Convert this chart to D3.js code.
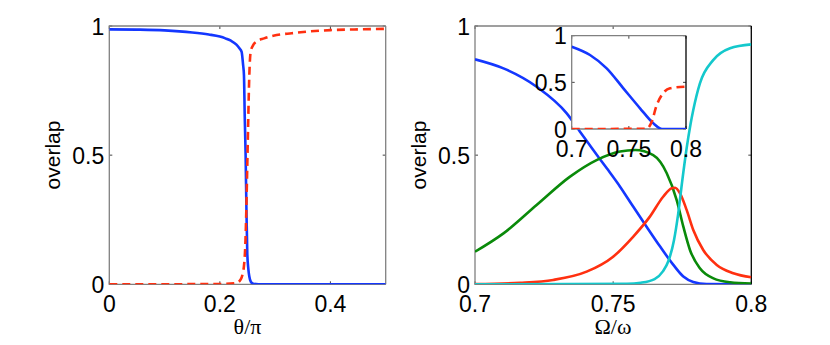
<!DOCTYPE html>
<html>
<head>
<meta charset="utf-8">
<script src="https://cdn.jsdelivr.net/npm/d3@7"></script>
<style>
  body { margin: 0; background: #fff; }
  text { font-family: "Liberation Sans", Arial, sans-serif; }
</style>
</head>
<body>
<div id="chart"></div>
<script>
// ---- data ----
// left panel: overlap vs theta/pi
var leftSolid = [
  [0, 0.987], [0.05, 0.986], [0.1, 0.983], [0.15, 0.975], [0.18, 0.967], [0.2, 0.959],
  [0.21, 0.952], [0.22, 0.943], [0.23, 0.928], [0.235, 0.915], [0.2394, 0.90],
  [0.242, 0.85], [0.2436, 0.81], [0.245, 0.65], [0.2466, 0.5], [0.248, 0.3],
  [0.2496, 0.12], [0.2515, 0.06], [0.2533, 0.03], [0.256, 0.01], [0.2605, 0.002],
  [0.27, 0], [0.5, 0]];
var leftDashed = [
  [0, 0], [0.2, 0.001], [0.23, 0.005], [0.238, 0.02], [0.2412, 0.04], [0.244, 0.08],
  [0.246, 0.15], [0.248, 0.3], [0.2495, 0.45], [0.251, 0.6], [0.2525, 0.75],
  [0.254, 0.85], [0.2557, 0.90], [0.26, 0.925], [0.2665, 0.94], [0.28, 0.952],
  [0.3027, 0.965], [0.33, 0.972], [0.357, 0.978], [0.4, 0.984], [0.45, 0.987], [0.5, 0.989]];

// right panel: overlap vs Omega/omega
var rightBlue = [
  [0.7, 0.871], [0.7103, 0.836], [0.7223, 0.765], [0.7332, 0.662], [0.738, 0.591],
  [0.7428, 0.52], [0.7477, 0.449], [0.7525, 0.378], [0.7573, 0.30], [0.7621, 0.223],
  [0.767, 0.146], [0.7718, 0.075], [0.7754, 0.03], [0.779, 0.009], [0.7838, 0.001], [0.8, 0]];
var rightGreen = [
  [0.7, 0.126], [0.7103, 0.197], [0.7223, 0.307], [0.7344, 0.417], [0.744, 0.481],
  [0.7525, 0.514], [0.758, 0.52], [0.7645, 0.50], [0.7694, 0.43], [0.773, 0.326],
  [0.7754, 0.223], [0.7778, 0.133], [0.7814, 0.062], [0.7863, 0.023], [0.7923, 0.008], [0.8, 0.003]];
var rightRed = [
  [0.7, 0.001], [0.7163, 0.006], [0.7283, 0.017], [0.7404, 0.049], [0.75, 0.107],
  [0.7573, 0.185], [0.7633, 0.262], [0.7681, 0.339], [0.7712, 0.372], [0.7724, 0.374],
  [0.7742, 0.352], [0.7766, 0.288], [0.779, 0.21], [0.7826, 0.133], [0.7875, 0.075],
  [0.7935, 0.043], [0.8, 0.027]];
var rightCyan = [
  [0.7, 0], [0.755, 0.002], [0.76, 0.006], [0.765, 0.02], [0.768, 0.05], [0.77, 0.09],
  [0.772, 0.17], [0.7735, 0.27], [0.775, 0.40], [0.7765, 0.52], [0.778, 0.62],
  [0.779, 0.675], [0.7814, 0.778], [0.7862, 0.868], [0.7923, 0.914], [0.8, 0.929]];

// inset
var insetSolid = [
  [0.7, 0.882], [0.716, 0.793], [0.7306, 0.65], [0.7452, 0.436], [0.7598, 0.222],
  [0.7714, 0.061], [0.7773, 0.007], [0.78, 0], [0.8, 0]];
var insetDashed = [
  [0.7, 0], [0.7656, 0.002], [0.77, 0.078], [0.7744, 0.257], [0.7788, 0.364],
  [0.786, 0.436], [0.8, 0.454]];

var leftXTicks = [0, 0.2, 0.4];
var rightXTicks = [0.7, 0.75, 0.8];
var yTicks = [0, 0.5, 1];
var insetXTicks = [0.7, 0.75, 0.8];

// ---- drawing ----
var width = 830, height = 345;
var blue = "#1437ff", red = "#ff3010", green = "#0a8a0a", cyan = "#14c8cc";

var svg = d3.select("#chart").append("svg")
    .attr("width", width)
    .attr("height", height);

var defs = svg.append("defs");

function panel(id, left, top, w, h, xDomain, yDomain) {
  var x = d3.scaleLinear().domain(xDomain).range([left, left + w]);
  var y = d3.scaleLinear().domain(yDomain).range([top + h, top]);
  defs.append("clipPath").attr("id", id)
    .append("rect").attr("x", left).attr("y", top).attr("width", w).attr("height", h);
  return { x: x, y: y, left: left, top: top, w: w, h: h, id: id };
}

function drawFrame(p, xticks, yticks, rightColor) {
  var g = svg.append("g");
  var tl = 3;
  xticks.forEach(function(t) {
    g.append("line").attr("x1", p.x(t)).attr("x2", p.x(t))
      .attr("y1", p.top + p.h).attr("y2", p.top + p.h - tl).attr("stroke", "#444");
    g.append("line").attr("x1", p.x(t)).attr("x2", p.x(t))
      .attr("y1", p.top).attr("y2", p.top + tl).attr("stroke", "#444");
    g.append("text").attr("x", p.x(t)).attr("y", p.top + p.h + 28)
      .attr("text-anchor", "middle").attr("font-size", "23px").text(String(t));
  });
  yticks.forEach(function(t) {
    g.append("line").attr("x1", p.left).attr("x2", p.left + tl)
      .attr("y1", p.y(t)).attr("y2", p.y(t)).attr("stroke", "#444");
    g.append("line").attr("x1", p.left + p.w).attr("x2", p.left + p.w - tl)
      .attr("y1", p.y(t)).attr("y2", p.y(t)).attr("stroke", "#444");
    g.append("text").attr("x", p.left - 5).attr("y", p.y(t) + 8.5)
      .attr("text-anchor", "end").attr("font-size", "23px").text(String(t));
  });
  // box
  g.append("path")
    .attr("d", "M" + (p.left + p.w) + "," + p.top + "H" + p.left + "V" + (p.top + p.h) + "H" + (p.left + p.w))
    .attr("fill", "none").attr("stroke", "#808080").attr("stroke-width", 1.3);
  g.append("line").attr("x1", p.left + p.w).attr("x2", p.left + p.w)
    .attr("y1", p.top).attr("y2", p.top + p.h)
    .attr("stroke", rightColor).attr("stroke-width", 1.3);
}

function drawLine(p, data, color, dashed) {
  var line = d3.line()
    .x(function(d) { return p.x(d[0]); })
    .y(function(d) { return p.y(d[1]); })
    .curve(d3.curveMonotoneX);
  svg.append("path")
    .datum(data)
    .attr("clip-path", "url(#" + p.id + ")")
    .attr("d", line)
    .attr("fill", "none")
    .attr("stroke", color)
    .attr("stroke-width", 2.6)
    .attr("stroke-dasharray", dashed ? "8,5" : null);
}

// left panel
var pL = panel("clipL", 109.3, 26, 276.4, 258.3, [0, 0.5], [0, 1]);
drawFrame(pL, leftXTicks, yTicks, "#808080");
drawLine(pL, leftSolid, blue, false);
drawLine(pL, leftDashed, red, true);

svg.append("text")
  .attr("transform", "translate(60,155) rotate(-90)")
  .attr("text-anchor", "middle").attr("font-size", "21px").text("overlap");
svg.append("text")
  .attr("x", 247.5).attr("y", 334)
  .attr("text-anchor", "middle").attr("font-size", "22px")
  .style("font-family", "'Liberation Serif', 'DejaVu Serif', serif")
  .text("θ/π");

// right panel
var pR = panel("clipR", 475, 26, 276.3, 258.3, [0.7, 0.8], [0, 1]);
drawFrame(pR, rightXTicks, yTicks, "#000");
drawLine(pR, rightBlue, blue, false);
drawLine(pR, rightGreen, green, false);
drawLine(pR, rightRed, red, false);
drawLine(pR, rightCyan, cyan, false);

svg.append("text")
  .attr("transform", "translate(426,155) rotate(-90)")
  .attr("text-anchor", "middle").attr("font-size", "21px").text("overlap");
svg.append("text")
  .attr("x", 613).attr("y", 334)
  .attr("text-anchor", "middle").attr("font-size", "22px")
  .style("font-family", "'Liberation Serif', 'DejaVu Serif', serif")
  .text("Ω/ω");

// inset
var pI = panel("clipI", 571.7, 35.7, 114.3, 93.3, [0.7, 0.8], [0, 1]);
svg.append("rect").attr("x", pI.left).attr("y", pI.top)
  .attr("width", pI.w).attr("height", pI.h).attr("fill", "#fff");
drawFrame(pI, insetXTicks, yTicks, "#000");
drawLine(pI, insetSolid, blue, false);
drawLine(pI, insetDashed, red, true);
</script>
</body>
</html>
